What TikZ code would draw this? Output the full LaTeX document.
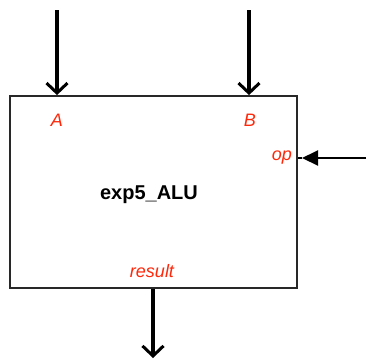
\documentclass[tikz,border=0pt]{standalone}
\usepackage{fontspec}
\setmainfont{Liberation Sans}
\definecolor{pinred}{RGB}{255,40,10}
\definecolor{boxline}{RGB}{40,40,40}
\usetikzlibrary{arrows.meta,positioning,calc}
\tikzset{
  alubox/.style={rectangle,draw=boxline,line width=1.8pt,fill=white,
                 minimum width=287pt,minimum height=192pt,inner sep=0pt},
  pinlabel/.style={font=\fontsize{18}{21}\selectfont\itshape,text=pinred,inner sep=1pt},
  busarrow/.style={-{Straight Barb[length=10pt,width=21pt,line width=3pt]},line width=3.4pt,black},
  ctrlarrow/.style={-{Triangle[length=16pt,width=15pt]},line width=2pt,black},
}
\begin{document}
\begin{tikzpicture}[x=1pt,y=1pt]
  \useasboundingbox (0,0) rectangle (367,-360);
  % block
  \node[alubox] (alu) at (153.5,-192) {};
  \node[font=\fontsize{20}{24}\selectfont\bfseries] (name) at (149,-195) {exp5\_ALU};
  % pin labels
  \node[pinlabel] (pa) at (57,-120) {A};
  \node[pinlabel] (pb) at (250,-120) {B};
  \node[pinlabel,anchor=east] (pop) at (293,-158) {op};
  \node[pinlabel] (pres) at (152,-271) {result};
  % connectors
  \coordinate (ain) at (57,-10);
  \coordinate (bin) at (249,-10);
  \coordinate (opin) at (366,-158);
  \coordinate (optip) at (302,-158);
  \coordinate (resout) at (153,-358);
  \draw[busarrow] (ain) -- (ain |- alu.north);
  \draw[busarrow] (bin) -- (bin |- alu.north);
  \draw[ctrlarrow] (opin) -- (optip);
  \draw[line width=2pt] (optip) -- (alu.east |- optip);
  \draw[busarrow] (resout |- alu.south) -- (resout);
\end{tikzpicture}
\end{document}
